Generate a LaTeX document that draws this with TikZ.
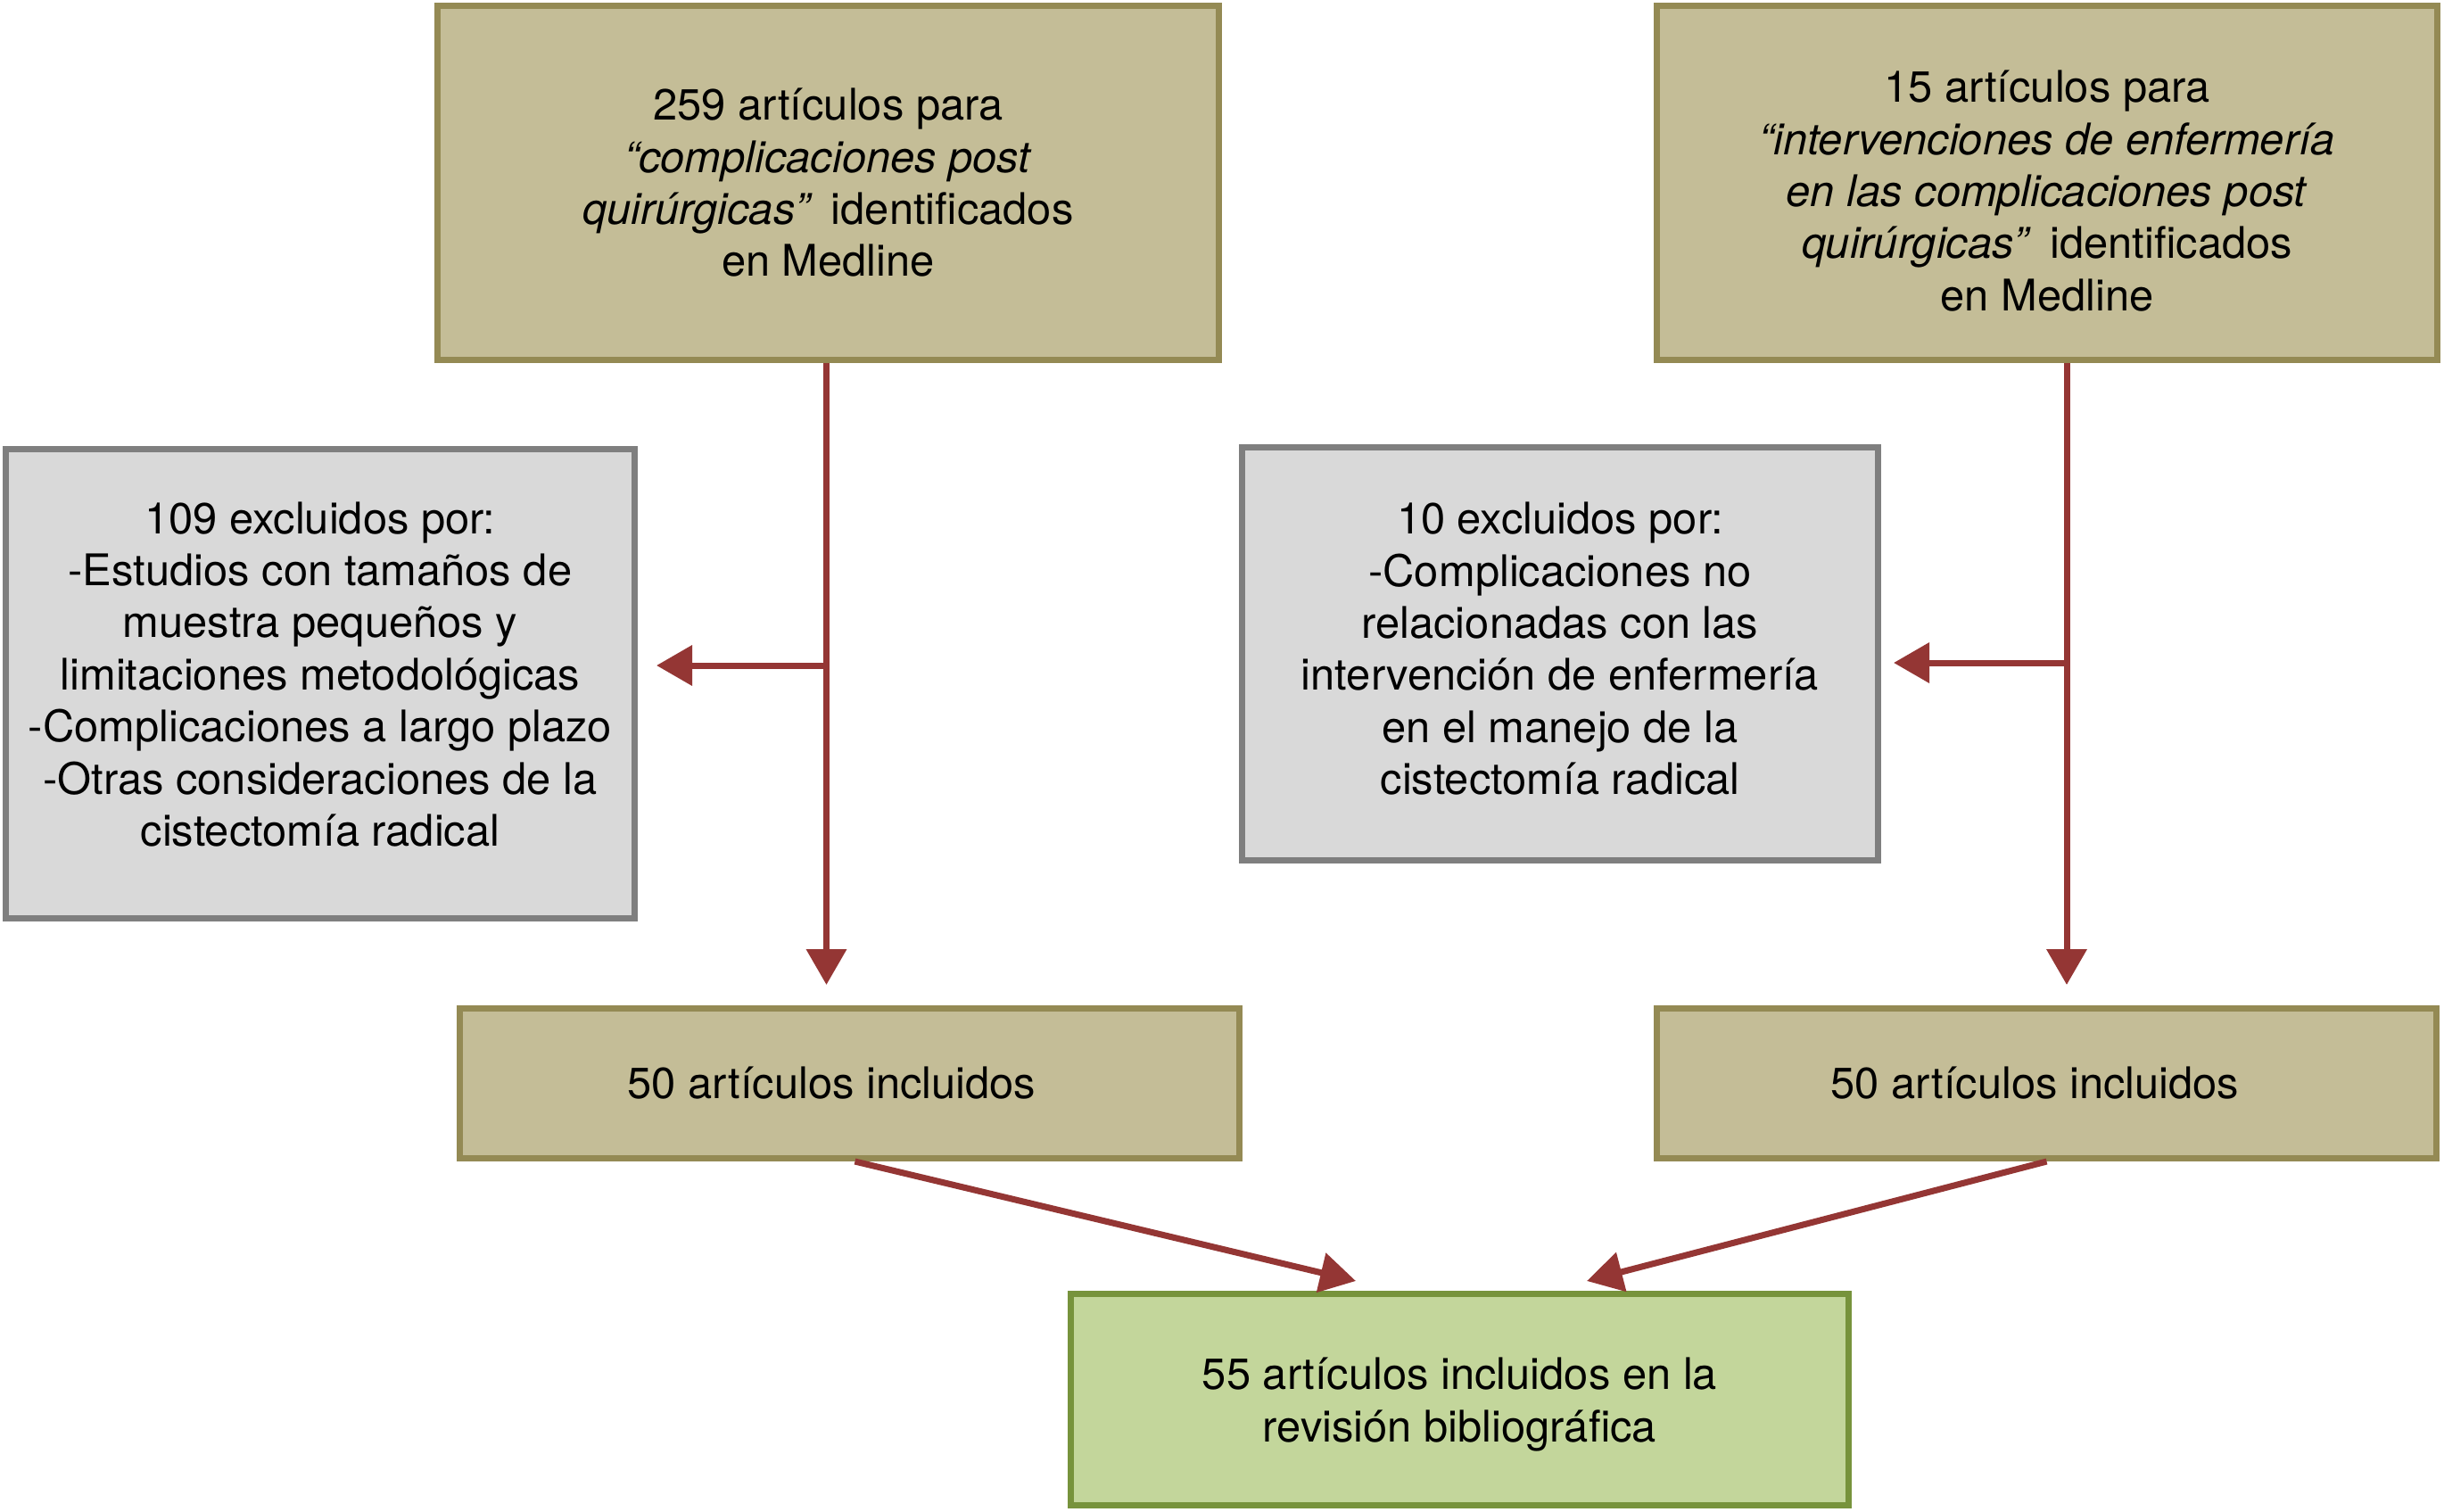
\documentclass[tikz,border=0pt]{standalone}
\usepackage{fontspec}
\setmainfont{TeX Gyre Heros}
\usetikzlibrary{arrows.meta,calc}
\definecolor{tanfill}{HTML}{C4BD97}
\definecolor{tanline}{HTML}{948A54}
\definecolor{greyfill}{HTML}{D9D9D9}
\definecolor{greyline}{HTML}{7F7F7F}
\definecolor{greenfill}{HTML}{C3D69B}
\definecolor{greenline}{HTML}{77933C}
\definecolor{arrred}{HTML}{943634}
\tikzset{
  basebox/.style={rectangle, line width=2pt, inner sep=0pt, align=center,
    font=\fontsize{13.9}{16.6}\selectfont},
  tanbox/.style={basebox, fill=tanfill, draw=tanline},
  greybox/.style={basebox, fill=greyfill, draw=greyline},
  greenbox/.style={basebox, fill=greenfill, draw=greenline},
  arr/.style={draw=arrred, line width=2pt, -{Triangle[length=4mm,width=4.4mm]}}
}
\begin{document}
\begin{tikzpicture}
\useasboundingbox[fill=white] (0,0) rectangle (27.40,-16.94);

\node[tanbox, minimum width=8.76cm, minimum height=3.97cm] (A) at (9.285,-2.05)
  {259 artículos para\\ \textit{“complicaciones post}\\ \textit{quirúrgicas”}\hspace{0.15em} identificados\\ en Medline};
\node[tanbox, minimum width=8.75cm, minimum height=3.97cm] (B) at (22.95,-2.05)
  {15 artículos para\\ \textit{“intervenciones de enfermería}\\ \textit{en las complicaciones post}\\ \textit{quirúrgicas”}\hspace{0.15em} identificados\\ en Medline\\[-1.55em]\mbox{}};
\node[greybox, minimum width=7.05cm, minimum height=5.26cm] (C) at (3.59,-7.665)
  {\mbox{}\\[-0.9em]109 excluidos por:\\ -Estudios con tamaños de\\ muestra pequeños y\\ limitaciones metodológicas\\ -Complicaciones a largo plazo\\ -Otras consideraciones de la\\ cistectomía radical};
\node[greybox, minimum width=7.13cm, minimum height=4.63cm] (D) at (17.49,-7.33)
  {\mbox{}\\[-0.7em]10 excluidos por:\\ -Complicaciones no\\ relacionadas con las\\ intervención de enfermería\\ en el manejo de la\\ cistectomía radical};
\node[tanbox, minimum width=8.74cm, minimum height=1.68cm] (E) at (9.525,-12.145)
  {\hspace*{-0.4cm}50 artículos incluidos};
\node[tanbox, minimum width=8.74cm, minimum height=1.68cm] (F) at (22.945,-12.145)
  {\hspace*{-0.26cm}50 artículos incluidos};
\node[greenbox, minimum width=8.72cm, minimum height=2.37cm] (G) at (16.365,-15.69)
  {55 artículos incluidos en la\\ revisión bibliográfica\\[-1.2em]\mbox{}};

% left branch
\path (E.north) ++(0,0.23) coordinate (eTop);
\path (A.south) ++(-0.02,0) coordinate (aS);
\draw[arr] (aS) -- (aS |- eTop);
\coordinate (jL) at (aS |- 0,-7.46);
\path (C.east) ++(0.21,0) coordinate (cR);
\draw[arr] (jL) -- (cR |- jL);

% right branch
\path (F.north) ++(0,0.23) coordinate (fTop);
\path (B.south) ++(0.22,0) coordinate (bS);
\draw[arr] (bS) -- (bS |- fTop);
\coordinate (jR) at (bS |- 0,-7.43);
\path (D.east) ++(0.14,0) coordinate (dR);
\draw[arr] (jR) -- (dR |- jR);

% to final box
\draw[arr] ([xshift=0.6mm]E.south) -- ([xshift=-11.65mm,yshift=1.1mm]G.north);
\draw[arr] (F.south) -- ([xshift=14.25mm,yshift=1.1mm]G.north);
\end{tikzpicture}
\end{document}
